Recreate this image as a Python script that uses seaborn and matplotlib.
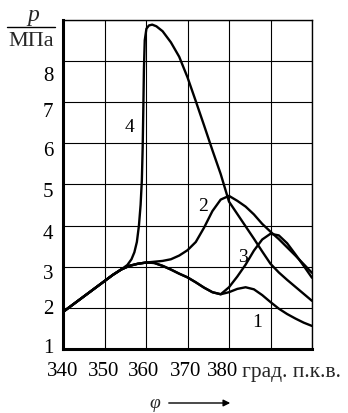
import matplotlib
matplotlib.use("Agg")
import matplotlib.pyplot as plt
import matplotlib.transforms as mtransforms
import seaborn as sns
import pandas as pd

# ---- data ----
base_phi = [340, 342, 344, 346, 348, 350, 352, 354, 356]
base_p = [1.9, 2.05, 2.2, 2.35, 2.5, 2.65, 2.8, 2.93, 3.02]

c1_phi = [358, 360, 362, 364, 366, 368, 370, 372, 374, 376, 378, 380, 382, 384,
          386, 388, 390, 392, 394, 396, 398, 400]
c1_p = [3.07, 3.1, 3.09, 3.02, 2.93, 2.83, 2.74, 2.62, 2.49, 2.38, 2.33, 2.38, 2.46,
        2.5, 2.45, 2.31, 2.14, 1.98, 1.85, 1.74, 1.64, 1.56]

c2_phi = [358, 360, 362, 364, 366, 368, 370, 372, 374, 376, 378, 380, 382, 384,
          386, 388, 390, 392, 394, 396, 398, 400]
c2_p = [3.07, 3.1, 3.12, 3.14, 3.18, 3.27, 3.4, 3.6, 3.95, 4.35, 4.63, 4.72, 4.6,
        4.46, 4.27, 4.04, 3.85, 3.67, 3.47, 3.27, 3.06, 2.85]

c3_phi = [358, 360, 362, 364, 366, 368, 370, 372, 374, 376, 378, 380, 382, 384,
          386, 388, 390, 392, 394, 396, 398, 400]
c3_p = [3.07, 3.1, 3.09, 3.02, 2.93, 2.83, 2.74, 2.62, 2.49, 2.38, 2.33, 2.5, 2.76,
        3.05, 3.39, 3.66, 3.8, 3.76, 3.57, 3.3, 3.02, 2.73]

c4_phi = [355.5, 356.5, 357.2, 357.8, 358.3, 358.7, 359.0, 359.2, 359.35, 359.5,
          359.7, 360.1, 360.7, 361.5, 362.5, 364, 366, 368, 370, 372, 374, 376,
          378, 380, 382, 384, 386, 388, 390, 392, 394, 396, 398, 400]
c4_p = [3.04, 3.18, 3.35, 3.6, 4.0, 4.5, 5.1, 5.9, 6.8, 7.8, 8.5, 8.78, 8.86, 8.88,
        8.84, 8.72, 8.45, 8.1, 7.6, 7.02, 6.43, 5.83, 5.25, 4.58, 4.28, 3.98, 3.68,
        3.37, 3.07, 2.86, 2.68, 2.51, 2.34, 2.17]

curve_names = ["1", "2", "3", "4"]
label_phi = [386.7, 373.7, 383.4, 356.1]
label_p = [1.68, 4.48, 3.24, 6.4]

x_ticks = [340, 350, 360, 370, 380, 390, 400]
x_ticklabels = ["340", "350", "360", "370", "380", "", ""]
y_ticks = [1, 2, 3, 4, 5, 6, 7, 8, 9]
y_ticklabels = ["1", "2", "3", "4", "5", "6", "7", "8", ""]

# ---- build long-form table ----
rows = []
for name, ph, pv in [("1", base_phi + c1_phi, base_p + c1_p),
                     ("2", base_phi + c2_phi, base_p + c2_p),
                     ("3", base_phi + c3_phi, base_p + c3_p),
                     ("4", base_phi[:-1] + c4_phi, base_p[:-1] + c4_p)]:
    for a, b in zip(ph, pv):
        rows.append({"curve": name, "phi": a, "p": b})
df = pd.DataFrame(rows)

sns.set_theme(style="white")
plt.rcParams["font.family"] = ["Liberation Serif", "DejaVu Serif"]

fig = plt.figure(figsize=(3.48, 4.14), dpi=100)
W, H = 348, 414
ax = fig.add_axes([63 / W, 1 - 350 / H, (312 - 63) / W, (350 - 20.7) / H])

sns.lineplot(data=df, x="phi", y="p", units="curve", estimator=None,
             color="black", lw=1.7, sort=False, ax=ax)

ax.set_xlim(340, 400)
ax.set_ylim(1, 9)
ax.set_xticks(x_ticks)
ax.set_xticklabels(x_ticklabels)
ax.set_yticks(y_ticks)
ax.set_yticklabels(y_ticklabels)
ax.grid(True, color="black", lw=0.8)
ax.set_axisbelow(True)
ax.set_xlabel("")
ax.set_ylabel("")
ax.tick_params(axis="both", length=0, labelsize=15, colors="black")
ax.tick_params(axis="x", pad=9)
ax.tick_params(axis="y", pad=7)

# small label offsets as printed in the reference (pixels; + = down / right)
y_off = [-4, -2, 4, 5, 5, 5, 7, 12, 0]
for lab, off in zip(ax.get_yticklabels(), y_off):
    lab.set_transform(lab.get_transform() +
                      mtransforms.ScaledTranslation(0, -off / 100, fig.dpi_scale_trans))
x_off = [0, -1, -2, -2, -6, 0, 0]
for lab, off in zip(ax.get_xticklabels(), x_off):
    lab.set_transform(lab.get_transform() +
                      mtransforms.ScaledTranslation(off / 100, 0, fig.dpi_scale_trans))

for s in ["left", "bottom"]:
    ax.spines[s].set_linewidth(2.2)
    ax.spines[s].set_color("black")
for s in ["top", "right"]:
    ax.spines[s].set_linewidth(1.0)
    ax.spines[s].set_color("black")

for n, lx, ly in zip(curve_names, label_phi, label_p):
    ax.text(lx, ly, n, fontsize=14, ha="center", va="center", color="black")

# axis units / labels
fig.text(33 / W, 1 - 16 / H, "p", fontsize=17, style="italic", ha="center", va="center")
fig.add_artist(plt.Line2D([7 / W, 55 / W], [1 - 28 / H, 1 - 28 / H],
                          color="black", lw=1.0, transform=fig.transFigure))
fig.text(31 / W, 1 - 42 / H, "МПа", fontsize=16, ha="center", va="center")
fig.text(242 / W, 1 - 373 / H, "град. п.к.в.", fontsize=15.5, ha="left", va="center")
fig.text(155 / W, 1 - 404 / H, "φ", fontsize=14, style="italic", ha="center", va="center")
ax.annotate("", xy=(233 / W, 1 - 404 / H), xytext=(166 / W, 1 - 404 / H),
            xycoords="figure fraction", textcoords="figure fraction",
            arrowprops=dict(arrowstyle="-|>", color="black", lw=1.0,
                            mutation_scale=10))

fig.savefig("out.png", dpi=100)
